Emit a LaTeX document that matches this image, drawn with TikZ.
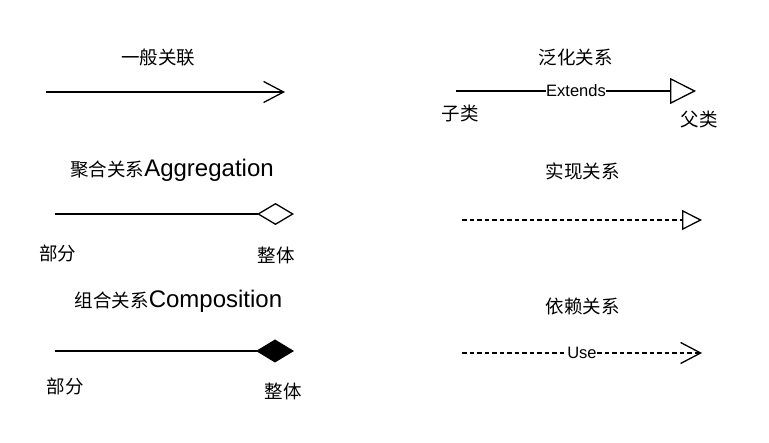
\documentclass[tikz,border=0pt]{standalone}
\usepackage{fontspec}
\setmainfont{Liberation Sans}
\newfontfamily\cjk{Noto Sans CJK SC}
\usetikzlibrary{arrows.meta}
\begin{document}
\begin{tikzpicture}[x=1pt,y=-1pt,
  rel/.style={line width=1.3pt},
  dsh/.style={line width=1.3pt, dash pattern=on 4.5pt off 3pt},
  cn/.style={font=\cjk\fontsize{18.5}{21}\selectfont, inner sep=0pt},
  mix/.style={inner sep=0pt},
  midlbl/.style={font=\fontsize{16.5}{19}\selectfont, fill=white, inner sep=0.5pt},
  vhead/.style={-{Straight Barb[length=20pt,width=21pt]}},
  tri/.style={-{Triangle[open,length=26pt,width=26pt]}},
  smtri/.style={-{Triangle[open,length=20pt,width=20pt]}},
  odia/.style={-{Diamond[open,length=37pt,width=22pt]}},
  fdia/.style={-{Diamond[length=38pt,width=23pt]}}
]
\useasboundingbox (0,0) rectangle (769,443);
\fill[white] (0,0) rectangle (769,443);

% 一般关联
\node[cn] (t1) at (158,58) {一般关联};
\coordinate (a1) at (46,92);
\coordinate (a2) at (285,92);
\draw[rel,vhead] (a1) -- (a2);

% 泛化关系
\node[cn] (t2) at (575.5,57) {泛化关系};
\coordinate (g1) at (456,91);
\coordinate (g2) at (696,91);
\draw[rel,tri] (g1) -- node[midlbl] (ext) {Extends} (g2);
\node[cn] (zl) at (460,113) {子类};
\node[cn] (fl) at (699,120) {父类};

% 聚合关系
\node[mix] (t3) at (172,170) {{\cjk\fontsize{18.5}{21}\selectfont 聚合关系}{\fontsize{24}{28}\selectfont Aggregation}};
\coordinate (ag1) at (55,214);
\coordinate (ag2) at (294,214);
\draw[rel,odia] (ag1) -- (ag2);
\node[cn] (bf1) at (57.5,253) {部分};
\node[cn] (zt1) at (276,255) {整体};

% 组合关系
\node[mix] (t4) at (178.5,301) {{\cjk\fontsize{18.5}{21}\selectfont 组合关系}{\fontsize{24}{28}\selectfont Composition}};
\coordinate (c1) at (55,351);
\coordinate (c2) at (294,351);
\draw[rel,fdia] (c1) -- (c2);
\node[cn] (bf2) at (65,386) {部分};
\node[cn] (zt2) at (283,391) {整体};

% 实现关系
\node[cn] (t5) at (582.5,171) {实现关系};
\coordinate (r1) at (462,220);
\coordinate (r2) at (702,220);
\draw[dsh,smtri] (r1) -- (r2);

% 依赖关系
\node[cn] (t6) at (582.5,307) {依赖关系};
\coordinate (d1) at (462,353);
\coordinate (d2) at (702,353);
\draw[dsh,vhead] (d1) -- node[midlbl] (use) {Use} (d2);
\end{tikzpicture}
\end{document}
